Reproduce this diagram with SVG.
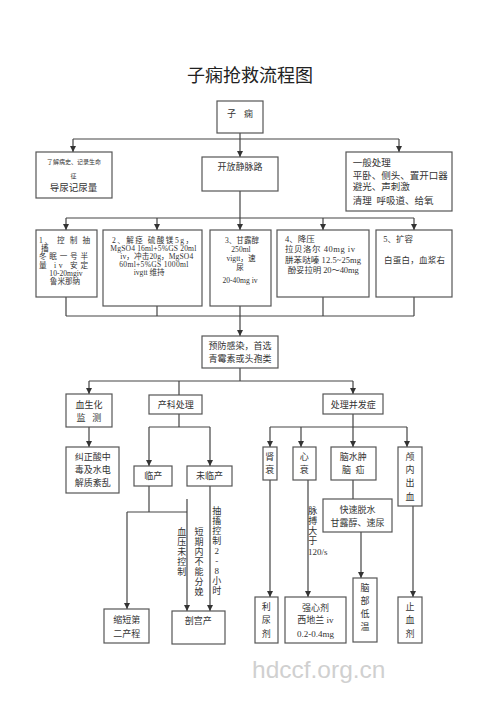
<svg xmlns="http://www.w3.org/2000/svg" width="500" height="707" viewBox="0 0 500 707">
<defs>
<marker id="ah" markerUnits="userSpaceOnUse" markerWidth="6" markerHeight="6" refX="6" refY="3" orient="auto">
<path d="M0,0 L6,3 L0,6 z" fill="#333"/>
</marker>
<style>
.b{fill:#fff;stroke:#555;stroke-width:1.2}
.t{font-family:"Liberation Serif","Noto Sans CJK SC",serif;font-size:9px;fill:#333}
.s{font-size:7.6px}
.m{text-anchor:middle}
.c line{stroke:#444;stroke-width:1.2;fill:none}
.c line.a{marker-end:url(#ah)}
</style>
</defs>
<rect width="500" height="707" fill="#fff"/>
<text x="250" y="82" text-anchor="middle" style="font-family:'Noto Sans CJK SC',sans-serif;font-size:18px;fill:#222">子痫抢救流程图</text>

<g class="c" id="connectors">
<line x1="240" y1="133" x2="240" y2="139"/>
<line x1="73" y1="139" x2="399" y2="139"/>
<line class="a" x1="73" y1="139" x2="73" y2="152"/>
<line class="a" x1="240" y1="139" x2="240" y2="157"/>
<line class="a" x1="399" y1="139" x2="399" y2="152"/>
<line x1="240" y1="191" x2="240" y2="218"/>
<line x1="66" y1="218" x2="414" y2="218"/>
<line class="a" x1="66" y1="218" x2="66" y2="230"/>
<line class="a" x1="157" y1="218" x2="157" y2="230"/>
<line class="a" x1="240" y1="218" x2="240" y2="230"/>
<line class="a" x1="323" y1="218" x2="323" y2="230"/>
<line class="a" x1="414" y1="218" x2="414" y2="230"/>
<line x1="66" y1="297" x2="66" y2="316"/>
<line x1="157" y1="306" x2="157" y2="316"/>
<line x1="323" y1="297" x2="323" y2="316"/>
<line x1="414" y1="297" x2="414" y2="316"/>
<line x1="66" y1="316" x2="414" y2="316"/>
<line class="a" x1="240" y1="306" x2="240" y2="336"/>
<line x1="240" y1="368" x2="240" y2="381"/>
<line x1="89" y1="381" x2="353" y2="381"/>
<line class="a" x1="89" y1="381" x2="89" y2="394"/>
<line x1="179" y1="381" x2="179" y2="395"/>
<line class="a" x1="353" y1="381" x2="353" y2="394"/>
<line class="a" x1="89" y1="427" x2="89" y2="447"/>
<line x1="179" y1="414" x2="179" y2="427"/>
<line x1="149" y1="427" x2="210" y2="427"/>
<line class="a" x1="149" y1="427" x2="149" y2="466"/>
<line class="a" x1="210" y1="427" x2="210" y2="466"/>
<line x1="353" y1="414" x2="353" y2="427"/>
<line x1="270" y1="427" x2="407" y2="427"/>
<line class="a" x1="270" y1="427" x2="270" y2="447"/>
<line class="a" x1="301" y1="427" x2="301" y2="447"/>
<line class="a" x1="353" y1="427" x2="353" y2="447"/>
<line class="a" x1="407" y1="427" x2="407" y2="447"/>
<line x1="149" y1="486" x2="149" y2="512"/>
<line x1="127" y1="512" x2="187" y2="512"/>
<line class="a" x1="127" y1="512" x2="127" y2="609"/>
<line class="a" x1="187" y1="499" x2="187" y2="611"/>
<line class="a" x1="210" y1="486" x2="210" y2="611"/>
<line class="a" x1="270" y1="480" x2="270" y2="597"/>
<line class="a" x1="308" y1="480" x2="308" y2="597"/>
<line x1="353" y1="480" x2="353" y2="499"/>
<line class="a" x1="361" y1="532" x2="361" y2="578"/>
<line class="a" x1="413" y1="506" x2="413" y2="597"/>
</g>

<g id="n_zixian"><rect class="b" x="217" y="101" width="46" height="32"/><text class="t" x="227" y="117">子</text><text class="t" x="244" y="117">痫</text></g>
<g id="n_left"><rect class="b" x="36" y="152" width="76" height="46"/>
<text class="t m" x="74" y="164" style="font-size:6px">了解病史、记录生命</text>
<text class="t m" x="73.5" y="178" style="font-size:6px">征</text>
<text class="t m" x="73.5" y="191" style="font-size:9.5px">导尿记尿量</text></g>
<g id="n_iv"><rect class="b" x="202" y="157" width="76" height="34"/><text class="t m" x="240" y="170">开放静脉路</text></g>
<g id="n_general"><rect class="b" x="346" y="152" width="106" height="59"/>
<text class="t" x="352.7" y="166" style="font-size:9.5px">一般处理</text>
<text class="t" x="352.7" y="179" style="font-size:9.5px">平卧、侧头、置开口器</text>
<text class="t" x="352.7" y="190.3" style="font-size:9.5px">避光、声刺激</text>
<text class="t" x="352.7" y="204.3" style="font-size:9.5px">清理&#160;&#160;呼吸道、给氧</text></g>

<g id="n_b1"><rect class="b" x="36" y="230" width="61" height="67"/>
<text class="t s" x="39" y="242.6" textLength="51">1、 控 制 抽</text>
<text class="t s" x="41" y="251">搐</text>
<text class="t s" x="39" y="259.4" textLength="49">冬眠一号半</text>
<text class="t s" x="39" y="267.6" textLength="49">量 iv  安定</text>
<text class="t s m" x="66" y="275.8">10-20mgiv</text>
<text class="t s m" x="65" y="284">鲁米那纳</text></g>
<g id="n_b2"><rect class="b" x="103" y="230" width="99" height="76"/>
<text class="t s m" x="152.5" y="242.6" textLength="81">2、解痉 硫酸镁5g，</text>
<text class="t s m" x="153.3" y="250.8" textLength="86">MgSO4 16ml+5%GS 20ml</text>
<text class="t s m" x="156.7" y="259" textLength="73">iv，冲击20g，MgSO4</text>
<text class="t s m" x="153.8" y="267.2" textLength="69">60ml+5%GS 1000ml</text>
<text class="t s m" x="149.2" y="275.4">ivgtt 维持</text></g>
<g id="n_b3"><rect class="b" x="210" y="230" width="61" height="76"/>
<text class="t s m" x="242" y="243">3、甘露醇</text>
<text class="t s m" x="241" y="251.8">250ml</text>
<text class="t s m" x="241" y="261.2">vigtt，速</text>
<text class="t s m" x="240" y="270">尿</text>
<text class="t s m" x="240" y="282.6">20-40mg iv</text></g>
<g id="n_b4"><rect class="b" x="277" y="230" width="92" height="67"/>
<text class="t" x="285" y="241.6" style="font-size:8.5px">4、降压</text>
<text class="t" x="285" y="251.6" textLength="70" style="font-size:8.5px">拉贝洛尔 40mg  iv</text>
<text class="t" x="285" y="262.6" textLength="76" style="font-size:8.5px">肼苯哒嗪 12.5~25mg</text>
<text class="t" x="287.7" y="273.3" textLength="71" style="font-size:8.5px">酚妥拉明 20～40mg</text></g>
<g id="n_b5"><rect class="b" x="376" y="230" width="76" height="67"/>
<text class="t" x="383.3" y="241.6" style="font-size:8.5px">5、扩容</text>
<text class="t" x="384" y="262.6" textLength="61" style="font-size:8.5px">白蛋白，血浆右</text></g>

<g id="n_infect"><rect class="b" x="202" y="336" width="76" height="32"/>
<text class="t m" x="240" y="349.4">预防感染，首选</text>
<text class="t m" x="240" y="362.4">青霉素或头孢类</text></g>
<g id="n_blood"><rect class="b" x="66" y="394" width="46" height="33"/>
<text class="t m" x="89" y="408.3">血生化</text>
<text class="t m" x="89" y="421.3">监&#160;&#160;&#160;测</text></g>
<g id="n_acid"><rect class="b" x="66" y="447" width="53" height="46"/>
<text class="t m" x="92.7" y="460">纠正酸中</text>
<text class="t m" x="92.7" y="473.3">毒及水电</text>
<text class="t m" x="92.7" y="486.3">解质紊乱</text></g>
<g id="n_obst"><rect class="b" x="149" y="395" width="53" height="19"/><text class="t m" x="175.8" y="408.3">产科处理</text></g>
<g id="n_labor"><rect class="b" x="134" y="466" width="38" height="20"/><text class="t m" x="153.3" y="479.3">临产</text></g>
<g id="n_nolabor"><rect class="b" x="187" y="466" width="45" height="20"/><text class="t m" x="209.5" y="479.3">未临产</text></g>
<g id="n_comp"><rect class="b" x="323" y="394" width="60" height="20"/><text class="t m" x="353.3" y="408.3">处理并发症</text></g>
<g id="n_renal"><rect class="b" x="263" y="447" width="14" height="33"/>
<text class="t m" x="269.7" y="460">肾</text><text class="t m" x="269.7" y="473.3">衰</text></g>
<g id="n_heart"><rect class="b" x="293" y="447" width="23" height="33"/>
<text class="t m" x="304.2" y="460">心</text><text class="t m" x="304.2" y="473.3">衰</text></g>
<g id="n_brain"><rect class="b" x="331" y="447" width="45" height="33"/>
<text class="t m" x="353.3" y="460">脑水肿</text><text class="t m" x="353.3" y="473.3">脑&#160;&#160;疝</text></g>
<g id="n_ich"><rect class="b" x="398" y="447" width="24" height="59"/>
<text class="t m" x="410" y="460">颅</text><text class="t m" x="410" y="473">内</text>
<text class="t m" x="410" y="486.3">出</text><text class="t m" x="410" y="500">血</text></g>
<g id="n_dehyd"><rect class="b" x="323" y="499" width="69" height="33"/>
<text class="t m" x="357.5" y="513.3">快速脱水</text>
<text class="t m" x="357.5" y="526">甘露醇、速尿</text></g>

<g id="lbl_bp" class="t m">
<text x="181.7" y="535">血</text><text x="181.7" y="545">压</text><text x="181.7" y="555">未</text><text x="181.7" y="565">控</text><text x="181.7" y="575">制</text>
</g>
<g id="lbl_short" class="t m">
<text x="199" y="535">短</text><text x="199" y="545">期</text><text x="199" y="555">内</text><text x="199" y="565">不</text><text x="199" y="575">能</text><text x="199" y="585">分</text><text x="199" y="595">娩</text>
</g>
<g id="lbl_seiz" class="t m">
<text x="216.7" y="514">抽</text><text x="216.7" y="524">搐</text><text x="216.7" y="534">控</text><text x="216.7" y="544">制</text><text x="216.7" y="554">2</text><text x="216.7" y="564">-</text><text x="216.7" y="574">8</text><text x="216.7" y="584">小</text><text x="216.7" y="594">时</text>
</g>
<g id="lbl_pulse" class="t">
<text x="312.7" y="514" text-anchor="middle">脉</text><text x="312.7" y="524" text-anchor="middle">搏</text><text x="312.7" y="534" text-anchor="middle">大</text><text x="312.7" y="544" text-anchor="middle">于</text>
<text x="308" y="555">120/s</text>
</g>

<g id="n_second"><rect class="b" x="104" y="609" width="45" height="34"/>
<text class="t m" x="126.7" y="623.3">缩短第</text><text class="t m" x="126.7" y="637.3">二产程</text></g>
<g id="n_cs"><rect class="b" x="172" y="611" width="53" height="33"/><text class="t m" x="198.3" y="624">剖宫产</text></g>
<g id="n_diur"><rect class="b" x="255" y="597" width="23" height="46"/>
<text class="t m" x="266.3" y="610.3">利</text><text class="t m" x="266.3" y="623.3">尿</text><text class="t m" x="266.3" y="637.3">剂</text></g>
<g id="n_card"><rect class="b" x="285" y="597" width="61" height="46"/>
<text class="t m" x="315.5" y="610.6">强心剂</text><text class="t m" x="315.5" y="623.3">西地兰 iv</text><text class="t m" x="315.5" y="637.3">0.2-0.4mg</text></g>
<g id="n_cool"><rect class="b" x="353" y="578" width="24" height="64"/>
<text class="t m" x="365" y="591.3">脑</text><text class="t m" x="365" y="604">部</text><text class="t m" x="365" y="617.3">低</text><text class="t m" x="365" y="630">温</text></g>
<g id="n_hemo"><rect class="b" x="398" y="597" width="24" height="46"/>
<text class="t m" x="410" y="610.3">止</text><text class="t m" x="410" y="623.3">血</text><text class="t m" x="410" y="637.3">剂</text></g>

<text x="252" y="678" style="font-family:'Liberation Sans',sans-serif;font-size:24.5px;fill:#d0d0d0">hdccf.org.cn</text>
</svg>
